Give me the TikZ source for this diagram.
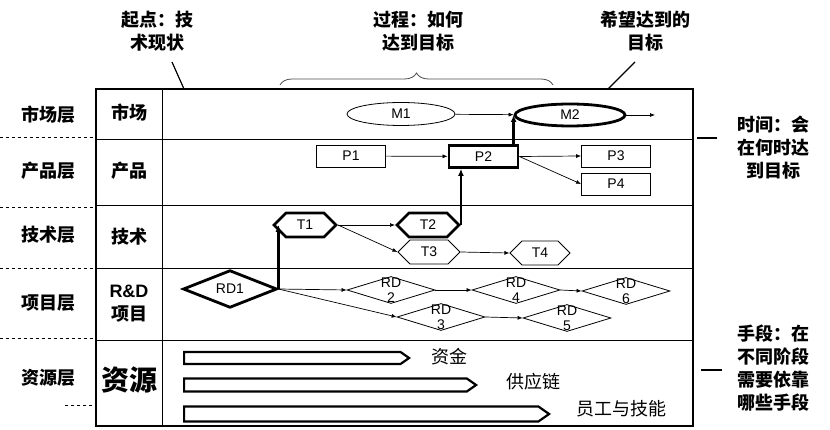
\documentclass[tikz,border=0pt]{standalone}
\usepackage{fontspec}
\setmainfont{Liberation Sans}
\newfontfamily\cjk{Noto Sans CJK SC}
\usetikzlibrary{positioning,shapes.geometric,shapes.symbols,shapes.arrows,arrows.meta,decorations.pathreplacing}

\tikzset{
  layertext/.style={font=\cjk\bfseries\fontsize{18}{23}\selectfont, align=center, inner sep=0pt},
  restext/.style={font=\cjk\fontsize{18}{22}\selectfont, inner sep=0pt, anchor=west},
  pbox/.style={draw, line width=0.8pt, minimum width=69pt, minimum height=22pt, inner sep=0pt, font=\fontsize{14}{16}\selectfont},
  pboxthick/.style={pbox, line width=2.8pt},
  mell/.style={draw, ellipse, line width=0.8pt, minimum width=108pt, minimum height=23pt, inner sep=0pt, font=\fontsize{14}{16}\selectfont},
  mellthick/.style={mell, line width=2.8pt},
  thex/.style={draw, signal, signal to=east and west, signal pointer angle=90, line width=0.8pt, minimum width=62pt, minimum height=24pt, inner sep=0pt, font=\fontsize{14}{16}\selectfont},
  thexthick/.style={thex, line width=2.8pt},
  rdia/.style={draw, diamond, line width=0.8pt, minimum width=88pt, minimum height=27pt, inner sep=0pt},
  rdiathick/.style={rdia, line width=2.8pt, minimum width=94pt, font=\fontsize{14}{16}\selectfont},
  rdlab/.style={align=center, font=\fontsize{14}{15}\selectfont},
  resbar/.style={draw, single arrow, single arrow head extend=0pt, single arrow tip angle=70, line width=2.2pt, inner sep=0pt, anchor=tail},
  flow/.style={-{Latex[length=5pt,width=4pt]}, line width=0.7pt},
  mainflow/.style={-{Latex[length=7pt,width=6pt]}, line width=2.6pt}
}

\begin{document}
\begin{tikzpicture}[x=1pt, y=-1pt]
\useasboundingbox (0,0) rectangle (830,430);

% 分层线与外框
\foreach \y in {139,205,268,340} \draw[line width=0.8pt] (96,\y) -- (693,\y);
\draw[line width=0.8pt] (162,89) -- (162,426);
\draw[line width=2.4pt] (96,89) rectangle (693,426);

% 左侧虚线
\foreach \y in {137,207,268,338} \draw[dashed, line width=0.8pt] (0,\y) -- (96,\y);
\draw[dashed, line width=0.8pt] (65,405) -- (96,405);

% 左侧层名
\node[layertext] (lmarket) at (48,115) {市场层};
\node[layertext] (lproduct) at (48,171) {产品层};
\node[layertext] (ltech) at (48,235) {技术层};
\node[layertext] (lproject) at (48,303) {项目层};
\node[layertext] (lres) at (48,378) {资源层};

% 第一列
\node[layertext] (cmarket) at (129,113) {市场};
\node[layertext] (cproduct) at (129,171) {产品};
\node[layertext] (ctech) at (129,237) {技术};
\node[layertext] (cproject) at (129,304) {\normalfont\bfseries R\&D\\项目};
\node[layertext, font=\cjk\bfseries\fontsize{28}{30}\selectfont] (cres) at (129,380) {资源};

% 市场层
\node[mell] (M1) at (401,114) {M1};
\node[mellthick, minimum width=110pt, minimum height=22pt] (M2) at (570,115) {M2};
\coordinate (mend) at (655,115);
\draw[flow] (M1) -- (M2);
\draw[flow] (M2) -- (mend);

% 产品层
\node[pbox] (P1) at (351,156) {P1};
\node[pboxthick] (P2) at (483.5,156.5) {P2};
\node[pbox] (P3) at (616,156) {P3};
\node[pbox] (P4) at (616,184) {P4};
\draw[flow] (P1) -- (P2);
\draw[flow] (P2.east) -- (P3.west);
\draw[flow] (P2.east) -- (P4.west);

% 技术层
\node[thexthick] (T1) at (305,225) {T1};
\node[thexthick] (T2) at (428,225) {T2};
\node[thex] (T3) at (429,252) {T3};
\node[thex, minimum width=60pt] (T4) at (540,253) {T4};
\draw[flow] (T1.east) -- (T2.west);
\draw[flow] (T1.east) -- (T3.west);
\draw[flow] (T3.east) -- (T4.west);

% 项目层
\node[rdiathick] (RD1) at (230,289) {RD1};
\node[rdia, label={[rdlab]center:RD\\2}] (RD2) at (391,290) {};
\node[rdia, label={[rdlab]center:RD\\3}] (RD3) at (441,317) {};
\node[rdia, label={[rdlab]center:RD\\4}] (RD4) at (516,290) {};
\node[rdia, label={[rdlab]center:RD\\5}] (RD5) at (567,318) {};
\node[rdia, label={[rdlab]center:RD\\6}] (RD6) at (626,291) {};
\draw[flow] (RD1.east) -- (RD2.west);
\draw[flow] (RD1.east) -- (RD3.west);
\draw[flow] (RD2.east) -- (RD4.west);
\draw[flow] (RD4.east) -- (RD6.west);
\draw[flow] (RD3.east) -- (RD5.west);

% 主路径
\draw[mainflow] (RD1.east) -- (RD1.east |- T1.west);
\draw[mainflow] (T2.east) -- (T2.east |- P2.south);
\draw[mainflow] (M2.west |- P2.north) -- (M2.west);

% 资源层
\node[resbar, minimum height=225pt, minimum width=12pt] (fund) at (183,358) {};
\node[resbar, minimum height=292pt, minimum width=13pt] (supply) at (183,385) {};
\node[resbar, minimum height=365pt, minimum width=15pt] (staff) at (183,414) {};
\node[restext, right=20pt of fund.tip, yshift=1pt] (tfund) {资金};
\node[restext, right=28pt of supply.tip, yshift=3pt] (tsupply) {供应链};
\node[restext, right=25pt of staff.tip, yshift=5pt] (tstaff) {员工与技能};

% 上方说明
\node[layertext] (start) at (157,31) {起点：技\\术现状};
\node[layertext] (process) at (418,31) {过程：如何\\达到目标};
\node[layertext] (goal) at (645,31) {希望达到的\\目标};
\coordinate (s1) at (172,62);
\coordinate (s2) at (184,89);
\coordinate (g1) at (635,62);
\coordinate (g2) at (608,89);
\draw[line width=1.2pt] (s1) -- (s2);
\draw[line width=1.2pt] (g1) -- (g2);
\draw[decorate, decoration={brace, amplitude=12pt}, line width=0.8pt, black!70] (280,85) -- (553,85);

% 右侧说明
\node[layertext] (time) at (773,148) {时间：会\\在何时达\\到目标};
\node[layertext] (means) at (773,368) {手段：在\\不同阶段\\需要依靠\\哪些手段};
\coordinate (t1) at (697,138);
\coordinate (t2) at (717,138);
\coordinate (n1) at (701,370);
\coordinate (n2) at (722,370);
\draw[line width=1.2pt] (t1) -- (t2);
\draw[line width=1.2pt] (n1) -- (n2);
\end{tikzpicture}
\end{document}
